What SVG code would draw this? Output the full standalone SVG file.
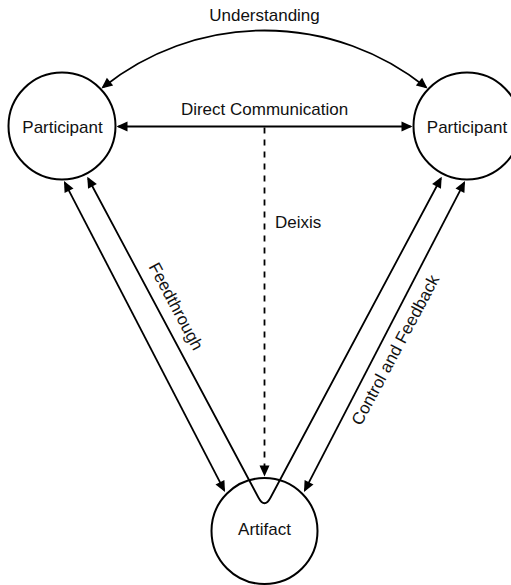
<svg xmlns="http://www.w3.org/2000/svg" width="511" height="585" viewBox="0 0 511 585">
  <style>
    .node { fill: #ffffff; stroke: #000000; stroke-width: 2; }
    .edge { fill: none; stroke: #000000; stroke-width: 1.8; }
    .dashed { stroke-dasharray: 6 6; }
    .label { font-family: "Liberation Sans", Arial, Helvetica, sans-serif; font-size: 17px; fill: #111111; }
    .mid { text-anchor: middle; }
  </style>
  <defs>
    <marker id="arrow" markerUnits="userSpaceOnUse" markerWidth="12" markerHeight="12"
            viewBox="0 0 12 12" refX="10" refY="6" orient="auto-start-reverse">
      <path d="M1,1 L12,6 L1,11 Z" fill="#000000"/>
    </marker>
  </defs>

  <rect width="511" height="585" fill="#ffffff"/>

  <!-- connectors -->
  <g id="connectors">
    <!-- Understanding: arc over the top between the two participants -->
    <path id="edge-understanding" class="edge" d="M103,87.3 A258,258 0 0 1 426,87.3"
          marker-start="url(#arrow)" marker-end="url(#arrow)"/>
    <!-- Direct Communication -->
    <path id="edge-direct" class="edge" d="M118.5,126.5 H410.5"
          marker-start="url(#arrow)" marker-end="url(#arrow)"/>
    <!-- Deixis: dashed drop from the communication line to the artifact -->
    <path id="edge-deixis" class="edge dashed" d="M264.5,127.5 V474.5"
          marker-end="url(#arrow)"/>
    <!-- Participant <-> Artifact, left -->
    <path id="edge-left" class="edge" d="M64.9,182.8 L224.1,490.2"
          marker-start="url(#arrow)" marker-end="url(#arrow)"/>
    <!-- Participant <-> Artifact, right -->
    <path id="edge-right" class="edge" d="M464.1,182.8 L304.9,490.2"
          marker-start="url(#arrow)" marker-end="url(#arrow)"/>
    <!-- Feedthrough: participant -> through artifact -> participant -->
    <path id="edge-feedthrough" class="edge"
          d="M88.2,178.5 L258.4,497.5 Q264.5,509 270.6,497.5 L440.8,178.5"
          marker-start="url(#arrow)" marker-end="url(#arrow)"/>

    <text class="label mid" x="264.5" y="20.5">Understanding</text>
    <text class="label mid" x="264.5" y="115">Direct Communication</text>
    <text class="label" x="275" y="228">Deixis</text>
    <text class="label mid" transform="translate(175,307) rotate(61.9)" x="0" y="4.5">Feedthrough</text>
    <text class="label mid" transform="translate(396.5,350.5) rotate(-61.9)" x="0" y="4.5">Control and Feedback</text>
  </g>

  <!-- nodes -->
  <g id="participant-left">
    <circle class="node" cx="62" cy="126" r="53.5"/>
    <text class="label mid" x="62.5" y="132.5">Participant</text>
  </g>
  <g id="participant-right">
    <circle class="node" cx="467" cy="126" r="53.5"/>
    <text class="label mid" x="467" y="132.5">Participant</text>
  </g>
  <g id="artifact">
    <circle class="node" cx="264.5" cy="531" r="53" fill="none" style="fill:none"/>
    <text class="label mid" x="264.5" y="535">Artifact</text>
  </g>
</svg>
